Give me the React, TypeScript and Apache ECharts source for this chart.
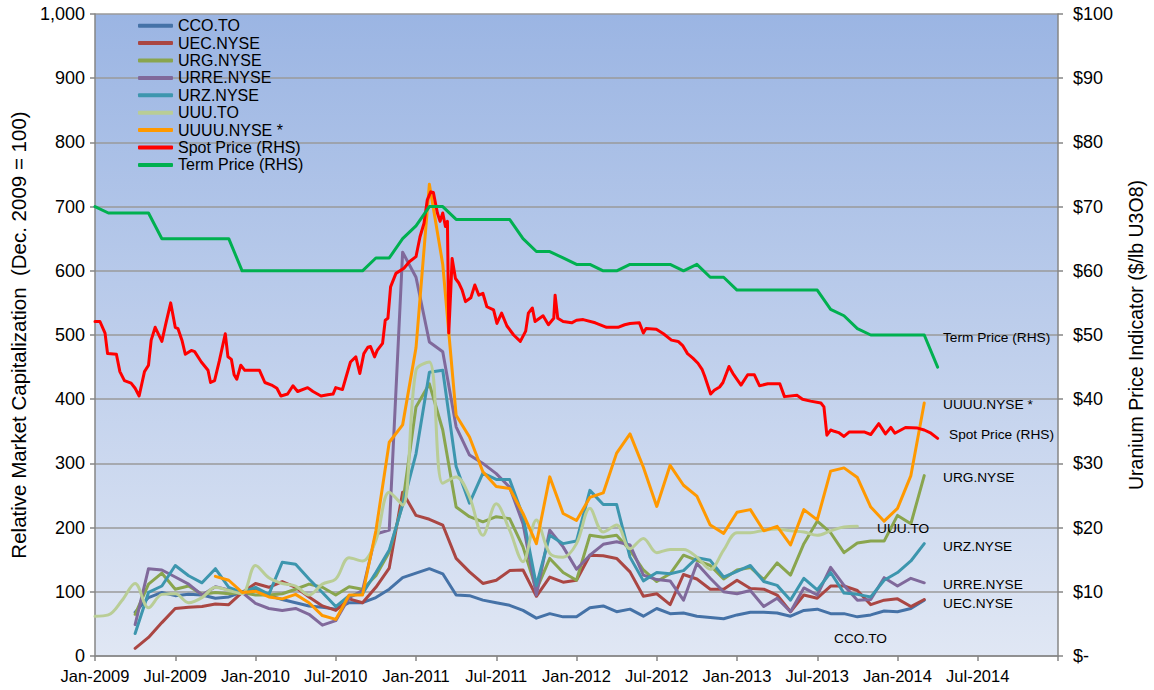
import React, { useEffect, useRef } from 'react';
import * as echarts from 'echarts';

// x axis: months since Jan-2009
const xTickLabels = ['Jan-2009', 'Jul-2009', 'Jan-2010', 'Jul-2010', 'Jan-2011', 'Jul-2011', 'Jan-2012', 'Jul-2012', 'Jan-2013', 'Jul-2013', 'Jan-2014', 'Jul-2014'];

const seriesNames = ['CCO.TO', 'UEC.NYSE', 'URG.NYSE', 'URRE.NYSE', 'URZ.NYSE', 'UUU.TO', 'UUUU.NYSE *', 'Spot Price (RHS)', 'Term Price (RHS)'];

// monthly relative market caps (Dec. 2009 = 100)
const ccoStart = 3;
const cco = [68, 91, 99, 94, 96, 95, 90, 92, 100, 103, 94, 88, 83, 78, 76, 73, 83, 83, 91, 104, 122, 129, 136, 128, 95, 94, 87, 83, 79, 71, 59, 66, 61, 61, 75, 78, 69, 73, 62, 74, 66, 67, 62, 60, 58, 64, 68, 68, 67, 62, 71, 73, 66, 66, 61, 64, 70, 69, 74, 87];
const uecStart = 3;
const uec = [12, 29, 52, 74, 76, 77, 81, 80, 99, 113, 107, 116, 107, 92, 78, 71, 89, 83, 107, 137, 255, 219, 213, 204, 152, 131, 113, 118, 133, 134, 93, 123, 115, 118, 157, 156, 152, 131, 93, 97, 80, 127, 120, 104, 104, 118, 105, 104, 95, 69, 95, 90, 109, 109, 102, 80, 87, 89, 77, 88];
const urgStart = 3;
const urg = [65, 112, 129, 104, 109, 96, 99, 97, 99, 95, 95, 97, 104, 112, 107, 95, 108, 104, 125, 162, 237, 388, 424, 352, 232, 217, 209, 217, 214, 170, 103, 152, 130, 118, 188, 185, 188, 165, 134, 116, 128, 157, 149, 141, 120, 134, 138, 119, 145, 126, 175, 210, 192, 161, 176, 179, 179, 219, 206, 281];
const urreStart = 3;
const urre = [49, 136, 134, 123, 112, 95, 108, 103, 99, 82, 74, 71, 74, 65, 48, 55, 91, 102, 190, 196, 629, 590, 489, 474, 357, 313, 300, 284, 263, 206, 95, 196, 170, 135, 157, 174, 178, 173, 126, 119, 117, 87, 144, 121, 100, 97, 102, 77, 90, 69, 106, 95, 138, 110, 87, 88, 122, 109, 121, 114];
const urzStart = 3;
const urz = [35, 99, 109, 141, 125, 114, 136, 107, 99, 107, 96, 146, 143, 120, 99, 77, 94, 97, 130, 165, 235, 315, 442, 445, 295, 238, 285, 275, 275, 218, 110, 188, 175, 179, 258, 236, 236, 154, 117, 130, 128, 133, 153, 149, 123, 132, 141, 116, 110, 87, 121, 103, 130, 98, 96, 92, 118, 130, 148, 175];
const uuuStart = 0;
const uuu = [62, 64, 86, 113, 75, 96, 97, 83, 91, 107, 102, 97, 141, 122, 113, 109, 95, 112, 120, 153, 148, 180, 255, 235, 445, 458, 269, 279, 248, 188, 237, 196, 147, 212, 160, 154, 175, 230, 193, 204, 167, 183, 161, 166, 166, 154, 135, 165, 192, 192, 196, 198, 195, 193, 188, 195, 201, 202];
const uuuuStart = 9;
const uuuu = [124, 118, 99, 101, 92, 89, 96, 83, 63, 57, 95, 95, 195, 333, 360, 480, 735, 610, 375, 341, 287, 264, 261, 222, 175, 279, 222, 211, 247, 254, 316, 346, 294, 233, 297, 266, 249, 204, 191, 224, 228, 195, 202, 173, 228, 212, 288, 293, 278, 232, 210, 230, 281, 394];

// uranium prices ($/lb U3O8)
const spotMonths = [0, 0.37, 0.75, 0.94, 1.6, 1.86, 2.2, 2.7, 3.0, 3.3, 3.7, 4.0, 4.2, 4.5, 5.0, 5.3, 5.66, 6.0, 6.2, 6.5, 6.75, 7.2, 7.45, 7.95, 8.45, 8.64, 8.94, 9.3, 9.74, 9.94, 10.2, 10.4, 10.6, 10.9, 11.2, 12.3, 12.7, 13.2, 13.6, 13.9, 14.4, 14.8, 15.15, 15.9, 16.3, 16.9, 17.4, 17.8, 18.0, 18.5, 18.75, 19.1, 19.5, 19.8, 20.1, 20.4, 20.6, 20.9, 21.1, 21.5, 21.7, 21.9, 22.1, 22.5, 23.1, 23.5, 24.0, 24.3, 24.6, 24.84, 25.1, 25.3, 25.6, 25.8, 26.0, 26.2, 26.35, 26.45, 26.6, 26.7, 26.95, 27.2, 27.45, 27.7, 28.1, 28.4, 28.7, 29.0, 29.3, 29.8, 30.05, 30.4, 30.8, 31.3, 31.8, 32.2, 32.4, 32.7, 32.9, 33.5, 33.9, 34.3, 34.4, 34.6, 35.0, 35.64, 36.0, 36.5, 37.4, 38.25, 39.1, 39.6, 40.0, 40.7, 41.0, 41.2, 41.97, 42.5, 43.1, 43.6, 43.96, 44.3, 44.7, 45.08, 45.4, 45.6, 46.03, 46.3, 46.7, 46.95, 47.4, 47.7, 48.3, 48.8, 49.3, 49.68, 50.3, 51.2, 51.55, 52.5, 52.9, 53.5, 54.27, 54.5, 54.72, 55.0, 55.27, 55.6, 56.0, 56.4, 56.75, 57.5, 58.0, 58.6, 59.1, 59.5, 59.8, 60.6, 61.5, 62.0, 62.5, 63.0];
const spotValues = [52.1, 52.1, 50.3, 47.1, 47.0, 44.3, 42.9, 42.5, 41.7, 40.5, 44.3, 45.3, 49.2, 51.2, 49.0, 51.8, 55.0, 51.2, 51.0, 49.2, 47.0, 47.6, 47.4, 45.8, 44.5, 42.6, 42.9, 46.0, 50.2, 46.6, 46.2, 43.8, 43.1, 45.3, 44.5, 44.5, 42.6, 42.2, 41.7, 40.5, 40.8, 42.1, 41.2, 41.8, 41.2, 40.5, 40.7, 40.8, 41.8, 41.5, 43.3, 45.8, 46.6, 44.0, 47.1, 48.1, 48.2, 46.6, 47.6, 48.7, 52.3, 52.6, 57.5, 59.6, 60.4, 61.4, 62.2, 65.3, 67.4, 71.0, 72.3, 72.2, 69.0, 67.7, 69.0, 66.9, 67.7, 50.3, 57.0, 61.9, 58.8, 58.1, 57.0, 55.2, 55.8, 57.8, 56.2, 56.5, 54.4, 53.9, 51.8, 53.4, 51.4, 50.0, 49.0, 50.6, 53.4, 54.2, 52.1, 53.0, 51.6, 52.6, 56.2, 52.6, 52.1, 51.9, 52.3, 52.4, 51.9, 51.2, 51.2, 51.6, 51.8, 51.9, 50.3, 51.0, 50.9, 50.2, 49.2, 49.0, 48.3, 47.1, 46.4, 45.6, 44.6, 43.5, 40.8, 41.4, 41.9, 42.6, 45.1, 44.0, 42.2, 43.8, 43.8, 42.1, 42.4, 42.4, 40.4, 40.6, 40.0, 39.7, 39.4, 38.8, 34.4, 35.2, 35.0, 34.8, 34.2, 34.9, 34.9, 34.9, 34.5, 36.2, 34.6, 35.6, 34.7, 35.6, 35.5, 35.2, 34.7, 33.9];
const termStart = 0;
const termValues = [70, 69, 69, 69, 69, 65, 65, 65, 65, 65, 65, 60, 60, 60, 60, 60, 60, 60, 60, 60, 60, 62, 62, 65, 67, 70, 70, 68, 68, 68, 68, 68, 65, 63, 63, 62, 61, 61, 60, 60, 61, 61, 61, 61, 60, 61, 59, 59, 57, 57, 57, 57, 57, 57, 57, 54, 53, 51, 50, 50, 50, 50, 50, 45];

const colors = ['#4572A7', '#AA4643', '#89A54E', '#80699B', '#3D96AE', '#B9CD96', '#FF9900', '#FF0000', '#00B050'];

const FONT = '"Liberation Sans", Arial, sans-serif';

const pairs = (start: number, arr: number[]) => arr.map((v, i) => [start + i, v]);

export default function App() {
  const ref = useRef<HTMLDivElement>(null);
  useEffect(() => {
    if (!ref.current) return;
    const chart = echarts.init(ref.current, undefined, { renderer: 'svg' });
    const stockData = [
      pairs(ccoStart, cco),
      pairs(uecStart, uec),
      pairs(urgStart, urg),
      pairs(urreStart, urre),
      pairs(urzStart, urz),
      pairs(uuuStart, uuu),
      pairs(uuuuStart, uuuu),
    ];
    const spotData = spotMonths.map((m, i) => [m, spotValues[i]]);
    const termData = pairs(termStart, termValues);
    const allData = [...stockData, spotData, termData];

    const series = seriesNames.map((name, i) => ({
      name,
      type: 'line',
      yAxisIndex: i >= 7 ? 1 : 0,
      data: allData[i],
      symbol: 'none',
      showSymbol: false,
      smooth: name === 'UUU.TO' ? 0.35 : false,
      lineStyle: { width: 3, color: colors[i], cap: 'round', join: 'round' },
      itemStyle: { color: colors[i] },
      emphasis: { disabled: true },
    }));

    const endLabels = [
      { text: 'Term Price (RHS)', x: 943, y: 337 },
      { text: 'UUUU.NYSE *', x: 943, y: 404 },
      { text: 'Spot Price (RHS)', x: 949, y: 434 },
      { text: 'URG.NYSE', x: 943, y: 477 },
      { text: 'UUU.TO', x: 877, y: 528 },
      { text: 'URZ.NYSE', x: 943, y: 546 },
      { text: 'URRE.NYSE', x: 943, y: 584 },
      { text: 'UEC.NYSE', x: 943, y: 603 },
      { text: 'CCO.TO', x: 834, y: 638 },
    ];

    chart.setOption({
      animation: false,
      color: colors,
      grid: {
        left: 95, right: 94, top: 14, bottom: 34,
        show: true,
        borderWidth: 0,
        backgroundColor: new echarts.graphic.LinearGradient(0, 0, 0, 1, [
          { offset: 0, color: '#9BB5E3' },
          { offset: 1, color: '#E0E7F4' },
        ]),
      },
      legend: {
        orient: 'vertical',
        left: 133,
        top: 12,
        itemWidth: 35,
        itemHeight: 4,
        itemGap: 0,
        icon: 'roundRect',
        data: seriesNames,
        selectedMode: false,
        textStyle: { fontFamily: FONT, fontSize: 16, color: '#000', lineHeight: 17.4 },
      },
      xAxis: {
        type: 'value',
        min: 0,
        max: 72,
        interval: 6,
        axisLine: { show: true, lineStyle: { color: '#868686', width: 1.5 } },
        axisTick: { show: true, inside: false, length: 5, lineStyle: { color: '#868686', width: 1.5 } },
        splitLine: { show: false },
        axisLabel: {
          margin: 11,
          fontFamily: FONT,
          fontSize: 16.5,
          color: '#000',
          formatter: (v: number) => xTickLabels[Math.round(v / 6)] ?? '',
        },
      },
      yAxis: [
        {
          type: 'value',
          min: 0,
          max: 1000,
          interval: 100,
          name: 'Relative Market Capitalization  (Dec. 2009 = 100)',
          nameLocation: 'middle',
          nameGap: 63,
          nameTextStyle: { fontFamily: FONT, fontSize: 20.5, color: '#000' },
          axisLine: { show: true, lineStyle: { color: '#868686', width: 1.5 } },
          axisTick: { show: true, inside: false, length: 5, lineStyle: { color: '#868686', width: 1.5 } },
          splitLine: { show: true, lineStyle: { color: '#9A9A9A', width: 1.5 } },
          axisLabel: {
            margin: 10,
            fontFamily: FONT,
            fontSize: 18,
            color: '#000',
            formatter: (v: number) => v.toLocaleString('en-US'),
          },
        },
        {
          type: 'value',
          min: 0,
          max: 100,
          interval: 10,
          position: 'right',
          name: 'Uranium Price Indicator ($/lb U3O8)',
          nameLocation: 'middle',
          nameGap: 68,
          nameTextStyle: { fontFamily: FONT, fontSize: 19.5, color: '#000' },
          axisLine: { show: true, lineStyle: { color: '#868686', width: 1.5 } },
          axisTick: { show: true, inside: false, length: 5, lineStyle: { color: '#868686', width: 1.5 } },
          splitLine: { show: false },
          axisLabel: {
            margin: 15,
            fontFamily: FONT,
            fontSize: 18,
            color: '#000',
            formatter: (v: number) => (v === 0 ? '$-' : '$' + v),
          },
        },
      ],
      graphic: endLabels.map((l) => ({
        type: 'text',
        x: l.x,
        y: l.y,
        silent: true,
        z: 100,
        style: {
          text: l.text,
          fill: '#000',
          font: `13.7px ${FONT}`,
          verticalAlign: 'middle',
          align: 'left',
        },
      })),
      series,
    });
    return () => chart.dispose();
  }, []);
  return <div ref={ref} style={{ position: 'absolute', left: 0, top: 0, width: 1154, height: 690 }} />;
}
